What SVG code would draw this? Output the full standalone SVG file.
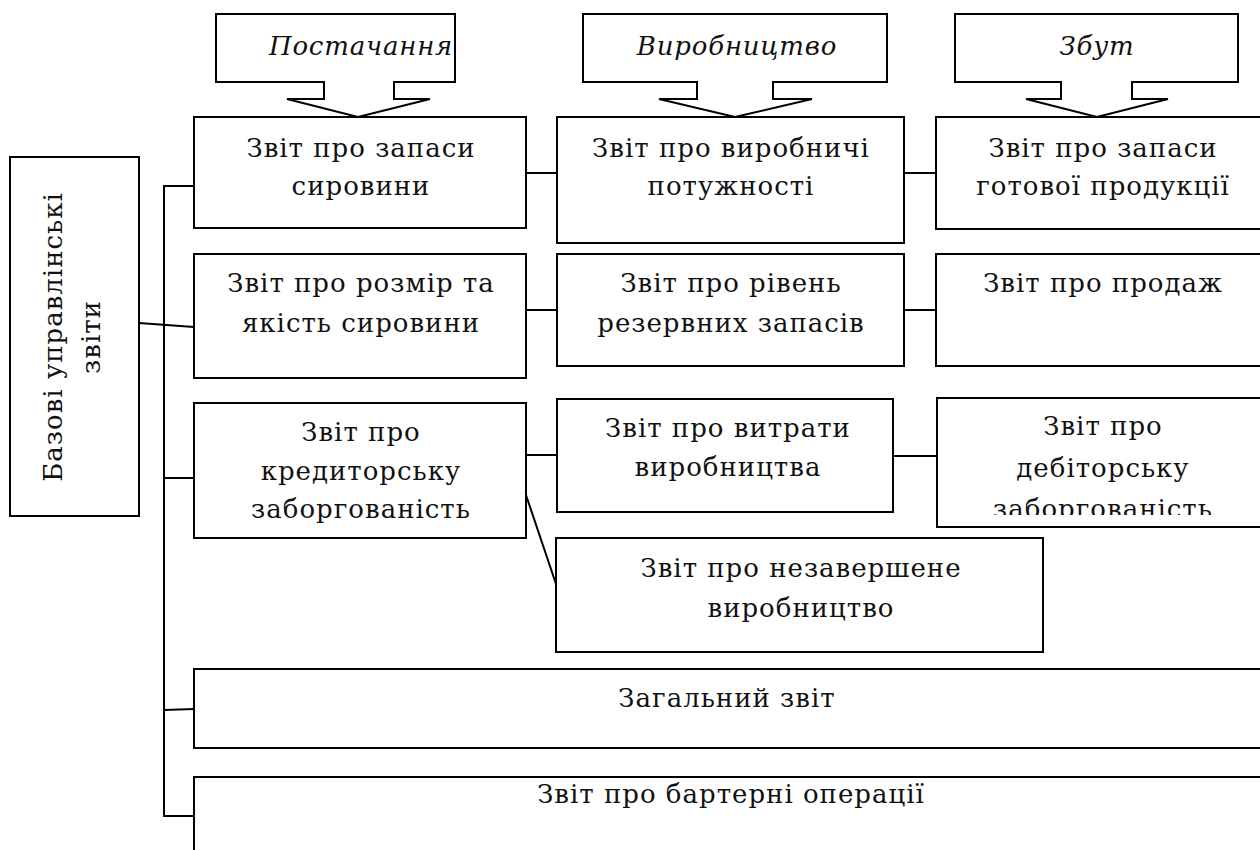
<svg xmlns="http://www.w3.org/2000/svg" width="1260" height="850" viewBox="0 0 1260 850">
  <style>
    .box { fill: #fff; stroke: #000; stroke-width: 2; }
    .call { fill: #fff; stroke: #000; stroke-width: 2; stroke-linejoin: miter; }
    .ln { fill: none; stroke: #000; stroke-width: 2; }
    .t { font-family: "DejaVu Serif", "Liberation Serif", serif; font-size: 26px; letter-spacing: 1px; fill: #111; text-anchor: middle; }
    .it { font-family: "DejaVu Serif", "Liberation Serif", serif; font-size: 26px; letter-spacing: 0.8px; font-style: italic; fill: #111; text-anchor: middle; }
  </style>
  <defs>
    <clipPath id="clipDebt"><rect x="937" y="398" width="330" height="117"/></clipPath>
  </defs>
  <rect width="1260" height="850" fill="#fff"/>

  <!-- connectors -->
  <g id="connectors">
    <line class="ln" x1="139" y1="323" x2="194" y2="327"/>
    <polyline class="ln" points="194,186 164,186 164,816 194,816"/>
    <line class="ln" x1="164" y1="478" x2="194" y2="478"/>
    <line class="ln" x1="164" y1="710" x2="194" y2="709"/>
    <line class="ln" x1="526" y1="173" x2="557" y2="173"/>
    <line class="ln" x1="904" y1="173" x2="936" y2="173"/>
    <line class="ln" x1="526" y1="310" x2="557" y2="310"/>
    <line class="ln" x1="904" y1="310" x2="936" y2="310"/>
    <line class="ln" x1="526" y1="455" x2="557" y2="455"/>
    <line class="ln" x1="893" y1="456" x2="937" y2="456"/>
    <line class="ln" x1="526" y1="495" x2="557" y2="587"/>
  </g>

  <!-- function callouts -->
  <g id="supply">
    <path class="call" d="M216,14 H455 V82 H394 V99 H430 L358,117 L287,99 H324 V82 H216 Z"/>
    <text class="it" x="361" y="55">Постачання</text>
  </g>
  <g id="production">
    <path class="call" d="M583,14 H887 V82 H773 V99 H812 L735,117 L659,99 H697 V82 H583 Z"/>
    <text class="it" x="737" y="55">Виробництво</text>
  </g>
  <g id="sales">
    <path class="call" d="M955,14 H1238 V82 H1132 V99 H1168 L1097,117 L1026,99 H1061 V82 H955 Z"/>
    <text class="it" x="1097" y="55">Збут</text>
  </g>

  <!-- root -->
  <g id="root">
    <rect class="box" x="10" y="157" width="129" height="359"/>
    <text class="t" transform="translate(62,337) rotate(-90)">Базові управлінські</text>
    <text class="t" transform="translate(100,337) rotate(-90)">звіти</text>
  </g>

  <!-- row 1 -->
  <g id="raw-stock">
    <rect class="box" x="194" y="117" width="332" height="111"/>
    <text class="t" x="361" y="157">Звіт про запаси</text>
    <text class="t" x="361" y="195">сировини</text>
  </g>
  <g id="capacity">
    <rect class="box" x="557" y="117" width="347" height="126"/>
    <text class="t" x="731" y="157">Звіт про виробничі</text>
    <text class="t" x="731" y="195">потужності</text>
  </g>
  <g id="finished-stock">
    <rect class="box" x="936" y="117" width="340" height="112"/>
    <text class="t" x="1103" y="157">Звіт про запаси</text>
    <text class="t" x="1103" y="195">готової продукції</text>
  </g>

  <!-- row 2 -->
  <g id="raw-quality">
    <rect class="box" x="194" y="254" width="332" height="124"/>
    <text class="t" x="361" y="292">Звіт про розмір та</text>
    <text class="t" x="361" y="332">якість сировини</text>
  </g>
  <g id="reserves">
    <rect class="box" x="557" y="254" width="347" height="112"/>
    <text class="t" x="731" y="292">Звіт про рівень</text>
    <text class="t" x="731" y="332">резервних запасів</text>
  </g>
  <g id="sales-report">
    <rect class="box" x="936" y="254" width="340" height="112"/>
    <text class="t" x="1103" y="292">Звіт про продаж</text>
  </g>

  <!-- row 3 -->
  <g id="payables">
    <rect class="box" x="194" y="403" width="332" height="135"/>
    <text class="t" x="361" y="441">Звіт про</text>
    <text class="t" x="361" y="480">кредиторську</text>
    <text class="t" x="361" y="518">заборгованість</text>
  </g>
  <g id="costs">
    <rect class="box" x="557" y="399" width="336" height="113"/>
    <text class="t" x="728" y="437">Звіт про витрати</text>
    <text class="t" x="728" y="476">виробництва</text>
  </g>
  <g id="receivables">
    <rect class="box" x="937" y="398" width="340" height="129"/>
    <text class="t" x="1103" y="435">Звіт про</text>
    <text class="t" x="1103" y="477">дебіторську</text>
    <text class="t" x="1103" y="518" clip-path="url(#clipDebt)">заборгованість</text>
  </g>
  <g id="wip">
    <rect class="box" x="556" y="538" width="487" height="114"/>
    <text class="t" x="801" y="577">Звіт про незавершене</text>
    <text class="t" x="801" y="617">виробництво</text>
  </g>

  <!-- wide rows -->
  <g id="general">
    <rect class="box" x="194" y="669" width="1080" height="79"/>
    <text class="t" x="727" y="707">Загальний звіт</text>
  </g>
  <g id="barter">
    <rect class="box" x="194" y="777" width="1080" height="90"/>
    <text class="t" x="731" y="803">Звіт про бартерні операції</text>
  </g>
</svg>
